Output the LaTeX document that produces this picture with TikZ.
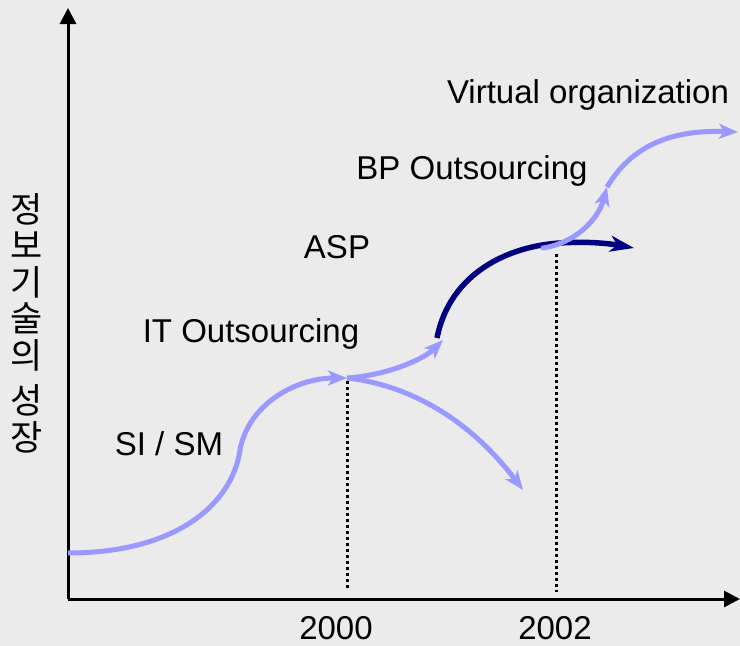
\documentclass[tikz,border=0pt]{standalone}
\usepackage{fontspec}
\setmainfont{Liberation Sans}
\newfontfamily\cjk{Noto Sans CJK KR}
\usetikzlibrary{arrows.meta}
\definecolor{bgray}{HTML}{EBEBEB}
\definecolor{lblue}{HTML}{9999FF}
\definecolor{navy}{HTML}{000080}
\tikzset{axis/.style = {line width=3pt, -{Triangle[length=16pt,width=16pt]}}}
\tikzset{growth/.style = {lblue, line width=5pt, -{Stealth[length=19pt,width=15pt,inset=5pt]}}}
\tikzset{aspline/.style = {navy, line width=5.5pt, -{Stealth[length=24pt,width=16pt,inset=7pt]}}}
\tikzset{guide/.style = {line width=3pt, dash pattern=on 3pt off 3pt}}
\tikzset{lbl/.style = {font=\fontsize{33}{36}\selectfont, anchor=base, inner sep=0pt}}

\begin{document}
\begin{tikzpicture}[x=1pt, y=-1pt]
    \fill[bgray] (0,0) rectangle (740,646);
    \useasboundingbox (0,0) rectangle (740,646);

    \coordinate (o) at (68,599);
    \coordinate (ytop) at (68,8);
    \coordinate (xend) at (740,599);
    \coordinate (si) at (68,553);
    \coordinate (si2) at (240,450);
    \coordinate (y2000) at (347,378);
    \coordinate (it) at (443,340);
    \coordinate (fall) at (523,490);
    \coordinate (asp) at (437,338);
    \coordinate (y2002) at (560,243);
    \coordinate (aspend) at (634,248);
    \coordinate (bp) at (543,248);
    \coordinate (bpend) at (607,187);
    \coordinate (vo) at (738,132);
    \coordinate (g2000a) at (347,381);
    \coordinate (g2000b) at (347,588);
    \coordinate (g2002a) at (556,254);
    \coordinate (g2002b) at (556,592);

    \draw[guide] (g2000a) -- (g2000b);
    \draw[guide] (g2002a) -- (g2002b);

    \draw[axis] (o) -- (ytop);
    \draw[axis] (o) -- (xend);

    \draw[growth] (si) .. controls (175,553) and (232,505) .. (si2)
        .. controls (248,405) and (295,378) .. (y2000);
    \draw[growth] (y2000) .. controls (390,375) and (425,358) .. (it);
    \draw[growth] (y2000) .. controls (410,385) and (470,420) .. (fall);
    \draw[aspline] (asp) .. controls (450,272) and (510,246) .. (y2002)
        .. controls (590,241) and (612,244) .. (aspend);
    \draw[growth, line cap=round] (bp) .. controls (575,243) and (598,220) .. (bpend);
    \draw[growth] (bpend) .. controls (635,140) and (680,130) .. (vo);

    \node[lbl] (vlabel) at (588,103) {Virtual organization};
    \node[lbl] (bplabel) at (472,179) {BP Outsourcing};
    \node[lbl] (asplabel) at (337,258) {ASP};
    \node[lbl] (itlabel) at (251,342) {IT Outsourcing};
    \node[lbl] (silabel) at (169,455) {SI / SM};
    \node[lbl] (t2000) at (336,639) {2000};
    \node[lbl] (t2002) at (555,639) {2002};
    \node[font=\cjk\fontsize{35}{36.5}\selectfont, align=center, inner sep=0pt]
        (ylabel) at (27,323) {정\\보\\기\\술\\의\\[9pt]성\\장};
\end{tikzpicture}
\end{document}
